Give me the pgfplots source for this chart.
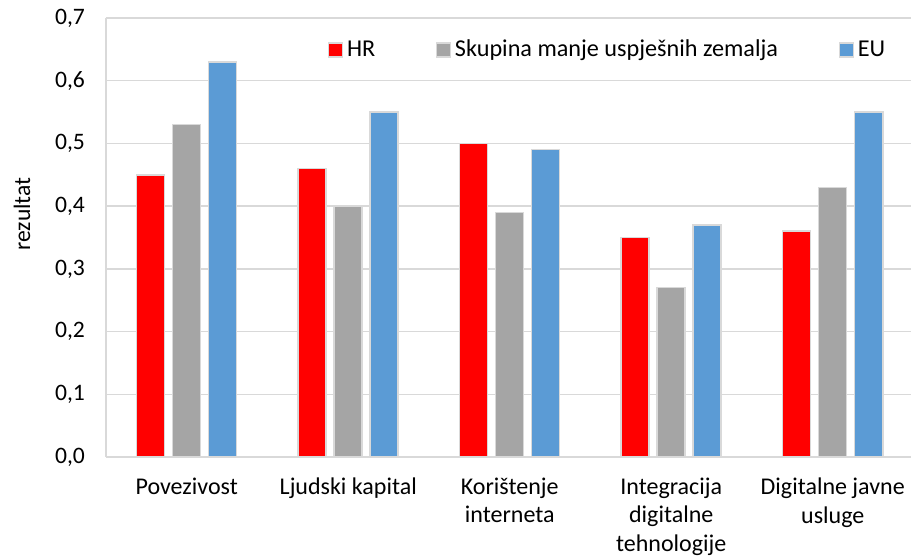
\documentclass[border=0pt]{standalone}
\usepackage{fontspec}
\setmainfont{Carlito}
\usepackage{pgfplots}
\pgfplotsset{compat=1.18}
\definecolor{cRed}{HTML}{FF0000}
\definecolor{cGray}{HTML}{A5A5A5}
\definecolor{cBlue}{HTML}{5B9BD5}
\definecolor{cGrid}{HTML}{D9D9D9}
\definecolor{cText}{HTML}{000000}
\begin{document}
\begin{tikzpicture}
\path[use as bounding box] (-53pt,-50.5pt) rectangle (402.5pt,228.5pt);
\begin{axis}[
  scale only axis,
  width=403.75pt, height=219.5pt,
  at={(0,0)}, anchor=south west,
  xmin=-0.5, xmax=4.5,
  ymin=0, ymax=0.7,
  ytick={0,0.1,...,0.7},
  xtick={0,1,2,3,4},
  xticklabels={Povezivost, Ljudski kapital, {Korištenje\\interneta}, {Integracija\\digitalne\\tehnologije}, {Digitalne javne\\usluge}},
  xticklabel style={align=center, font=\fontsize{12}{14.2}\selectfont, text=cText, yshift=-7pt},
  yticklabel style={font=\fontsize{11.8}{14}\selectfont, text=cText, xshift=-7pt},
  major tick length=0pt,
  axis x line*=bottom, axis y line*=left,
  axis line style={-, draw=cGrid, line width=0.8pt},
  ymajorgrids,
  grid style={draw=cGrid, line width=0.75pt},
  /pgf/number format/.cd, use comma, fixed, fixed zerofill, precision=1, assume math mode=true,
  /pgfplots/.cd,
  ybar=4pt, bar width=14pt,
  ylabel={rezultat},
  ylabel style={at={([xshift=-42pt]rel axis cs:0,0.5535)}, anchor=center, font=\fontsize{11.8}{14}\selectfont, text=cText},
  legend columns=3,
  legend style={at={(rel axis cs:0.2749,0.927)}, anchor=west, draw=none, fill=none,
    inner sep=0pt, outer sep=0pt,
    font=\fontsize{12.1}{14}\selectfont, text=cText,
    nodes={inner sep=1.8pt},
    /tikz/every even column/.append style={column sep=28.5pt}},
  legend image code/.code={\draw[#1] (0pt,-3.5pt) rectangle (7pt,3.5pt);},
  clip=false,
]
\addplot[fill=cRed, draw=cGrid, line width=0.75pt] coordinates {(0,0.45) (1,0.46) (2,0.50) (3,0.35) (4,0.36)};
\addplot[fill=cGray, draw=cGrid, line width=0.75pt] coordinates {(0,0.53) (1,0.40) (2,0.39) (3,0.27) (4,0.43)};
\addplot[fill=cBlue, draw=cGrid, line width=0.75pt] coordinates {(0,0.63) (1,0.55) (2,0.49) (3,0.37) (4,0.55)};
\legend{HR, Skupina manje uspješnih zemalja, EU}
\end{axis}
\end{tikzpicture}
\end{document}
